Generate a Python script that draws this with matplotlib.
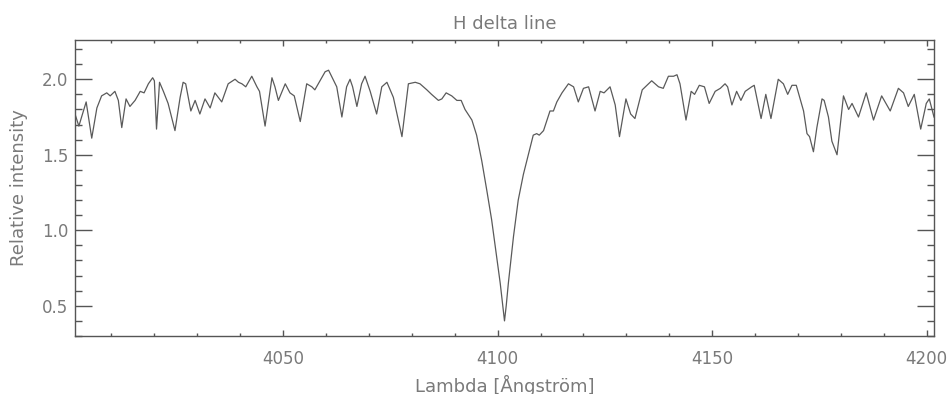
import matplotlib
matplotlib.use("Agg")
import matplotlib.pyplot as plt
from matplotlib.ticker import MultipleLocator

# Wavelength (Angstrom) and relative intensity
wavelength = [
    4001.5, 4002.4, 4004.1, 4005.4, 4006.6, 4007.7, 4008.9, 4009.7, 4010.8, 4011.6,
    4012.4, 4013.4, 4014.3, 4015.5, 4016.7, 4017.6, 4018.6, 4019.6, 4020.0, 4020.5,
    4021.2, 4022.1, 4023.2, 4024.8, 4026.0, 4026.7, 4027.3, 4028.5, 4029.5, 4030.6,
    4031.8, 4033.0, 4034.1, 4035.7, 4037.2, 4038.8, 4039.6, 4040.4, 4041.3, 4042.7,
    4043.9, 4044.5, 4045.8, 4047.4, 4048.1, 4048.9, 4050.5, 4051.6, 4052.6, 4054.0,
    4055.5, 4056.7, 4057.4, 4058.6, 4059.8, 4060.6, 4061.3, 4062.5, 4063.7, 4064.8,
    4065.6, 4066.2, 4067.2, 4068.3, 4069.1, 4070.3, 4071.8, 4073.0, 4074.2, 4075.7,
    4077.7, 4079.2, 4080.8, 4081.9, 4083.5, 4084.6, 4086.2, 4087.0, 4088.0, 4089.3,
    4090.5, 4091.5, 4092.4, 4094.0, 4095.1, 4096.3, 4097.5, 4098.6, 4099.8, 4100.6,
    4101.2, 4101.6, 4102.0, 4102.5, 4103.7, 4104.8, 4106.0, 4106.8, 4107.6, 4108.3,
    4109.1, 4109.7, 4110.7, 4111.5, 4112.2, 4113.0, 4113.8, 4115.0, 4116.5, 4117.7,
    4118.8, 4120.0, 4121.2, 4122.7, 4123.9, 4124.8, 4126.2, 4127.4, 4128.4, 4129.9,
    4131.0, 4132.0, 4133.7, 4135.9, 4137.5, 4138.6, 4139.8, 4141.0, 4141.8, 4142.5,
    4143.9, 4145.1, 4145.9, 4147.0, 4148.2, 4149.3, 4150.7, 4151.9, 4153.0, 4153.6,
    4154.6, 4155.7, 4156.7, 4157.7, 4159.2, 4159.8, 4161.4, 4162.5, 4163.7, 4165.4,
    4166.6, 4167.6, 4168.6, 4169.6, 4171.3, 4172.1, 4172.7, 4173.6, 4174.4, 4175.6,
    4176.1, 4177.1, 4177.9, 4179.1, 4180.6, 4181.8, 4182.6, 4184.1, 4185.9, 4187.6,
    4189.5, 4191.5, 4193.4, 4194.6, 4195.7, 4197.1, 4198.6, 4199.9, 4200.6, 4201.7,
]
intensity = [
    1.77, 1.69, 1.85, 1.61, 1.81, 1.89, 1.91, 1.89, 1.92, 1.86,
    1.68, 1.87, 1.82, 1.86, 1.92, 1.91, 1.97, 2.01, 1.99, 1.67,
    1.98, 1.92, 1.84, 1.66, 1.88, 1.98, 1.97, 1.79, 1.86, 1.77,
    1.87, 1.81, 1.91, 1.85, 1.97, 2.00, 1.98, 1.97, 1.95, 2.02,
    1.95, 1.92, 1.69, 2.01, 1.95, 1.86, 1.97, 1.91, 1.89, 1.72,
    1.97, 1.95, 1.93, 1.99, 2.05, 2.06, 2.02, 1.95, 1.75, 1.95,
    2.00, 1.95, 1.82, 1.97, 2.02, 1.92, 1.77, 1.95, 1.98, 1.88,
    1.62, 1.97, 1.98, 1.97, 1.93, 1.90, 1.86, 1.87, 1.91, 1.89,
    1.86, 1.86, 1.80, 1.73, 1.63, 1.46, 1.26, 1.07, 0.82, 0.65,
    0.50, 0.40, 0.50, 0.65, 0.96, 1.20, 1.37, 1.46, 1.55, 1.63,
    1.64, 1.63, 1.66, 1.73, 1.79, 1.79, 1.85, 1.91, 1.97, 1.95,
    1.85, 1.94, 1.95, 1.79, 1.92, 1.91, 1.95, 1.83, 1.62, 1.87,
    1.77, 1.74, 1.93, 1.99, 1.95, 1.94, 2.02, 2.02, 2.03, 1.97,
    1.73, 1.92, 1.90, 1.96, 1.95, 1.84, 1.92, 1.94, 1.97, 1.95,
    1.83, 1.92, 1.86, 1.92, 1.95, 1.96, 1.74, 1.90, 1.74, 2.00,
    1.97, 1.90, 1.96, 1.96, 1.79, 1.64, 1.62, 1.52, 1.68, 1.87,
    1.86, 1.75, 1.59, 1.50, 1.89, 1.80, 1.84, 1.75, 1.91, 1.73,
    1.89, 1.79, 1.94, 1.91, 1.82, 1.90, 1.67, 1.84, 1.87, 1.75,
]

title = "H delta line"
xlabel = "Lambda [Ångström]"
ylabel = "Relative intensity"
x_major = [4050, 4100, 4150, 4200]
y_major = [0.5, 1.0, 1.5, 2.0]

txt = "#7a7a7a"
axc = "#555555"

fig = plt.figure(figsize=(9.52, 3.94), dpi=100)
ax = fig.add_axes([75 / 952, 58 / 394, 859 / 952, 296 / 394])
ax.plot(wavelength, intensity, color="#5a5a5a", linewidth=0.9)

ax.set_xlim(4001.5, 4201.7)
ax.set_ylim(0.30, 2.26)
ax.set_xticks(x_major)
ax.set_yticks(y_major)
ax.xaxis.set_minor_locator(MultipleLocator(10))
ax.yaxis.set_minor_locator(MultipleLocator(0.1))

for s in ax.spines.values():
    s.set_color(axc)
    s.set_linewidth(1.0)

ax.tick_params(axis="both", which="both", direction="in", top=True, right=True,
               color=axc, labelcolor=txt, labelsize=12)
ax.tick_params(axis="x", which="major", length=4, width=1.0, pad=10)
ax.tick_params(axis="x", which="minor", length=2, width=1.0)
ax.tick_params(axis="y", which="major", length=12.2, width=1.0, pad=5)
ax.tick_params(axis="y", which="minor", length=5, width=1.0)

ax.set_title(title, color=txt, fontsize=13, pad=8)
ax.set_xlabel(xlabel, color=txt, fontsize=13, labelpad=5)
ax.set_ylabel(ylabel, color=txt, fontsize=13, labelpad=10)

fig.savefig("out.png", dpi=100, facecolor="white")
